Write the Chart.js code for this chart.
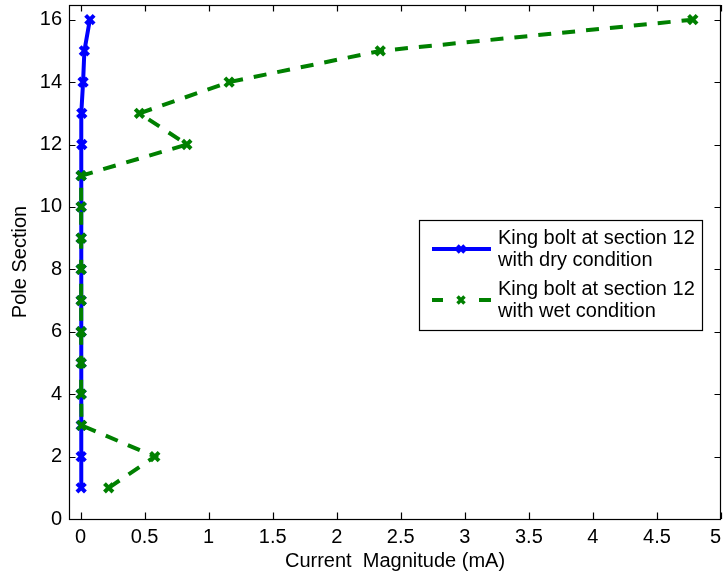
<!DOCTYPE html>
<html>
<head>
<meta charset="utf-8">
<script src="https://cdn.jsdelivr.net/npm/chart.js@4/dist/chart.umd.min.js"></script>
<style>
  html, body { margin: 0; padding: 0; background: #fff; }
  canvas { display: block; }
</style>
</head>
<body>
<canvas id="chart" width="723" height="577"></canvas>
<script>
// Pole sections (y) and measured current (x, mA)
const sections = [1, 2, 3, 4, 5, 6, 7, 8, 9, 10, 11, 12, 13, 14, 15, 16];
const dryCurrent = [0.005, 0.005, 0.005, 0.005, 0.005, 0.005, 0.005, 0.005, 0.005, 0.005, 0.005, 0.01, 0.01, 0.02, 0.03, 0.073];
const wetCurrent = [0.22, 0.58, 0.008, 0.005, 0.005, 0.005, 0.005, 0.005, 0.005, 0.005, 0.005, 0.83, 0.46, 1.16, 2.34, 4.78];

const xTicks = [0, 0.5, 1, 1.5, 2, 2.5, 3, 3.5, 4, 4.5, 5];
const xTickLabels = ['0', '0.5', '1', '1.5', '2', '2.5', '3', '3.5', '4', '4.5', '5'];
const yTicks = [0, 2, 4, 6, 8, 10, 12, 14, 16];
const yTickLabels = ['0', '2', '4', '6', '8', '10', '12', '14', '16'];

const dryLabel = ['King bolt at section 12', 'with dry condition'];
const wetLabel = ['King bolt at section 12', 'with wet condition'];

const FONT = '"Liberation Sans", Arial, Helvetica, sans-serif';

function toPoints(values) {
    return values.map((v, i) => ({ x: v, y: sections[i] }));
}

// Box round the axes and inward tick marks on all four sides (MATLAB style)
const framePlugin = {
    id: 'frame',
    afterDatasetsDraw(chart) {
        const { ctx, chartArea: a, scales } = chart;
        const len = 6.5;
        ctx.save();
        ctx.strokeStyle = '#000';
        ctx.lineWidth = 1.2;
        ctx.beginPath();
        xTicks.forEach(v => {
            const px = Math.round(scales.x.getPixelForValue(v)) + 0.5;
            ctx.moveTo(px, a.bottom); ctx.lineTo(px, a.bottom - len);
            ctx.moveTo(px, a.top); ctx.lineTo(px, a.top + len);
        });
        yTicks.forEach(v => {
            const py = Math.round(scales.y.getPixelForValue(v)) + 0.5;
            ctx.moveTo(a.left, py); ctx.lineTo(a.left + len, py);
            ctx.moveTo(a.right, py); ctx.lineTo(a.right - len, py);
        });
        ctx.stroke();
        ctx.strokeRect(Math.round(a.left) + 0.5, Math.round(a.top) + 0.5,
            Math.round(a.right - a.left) - 1, Math.round(a.bottom - a.top));
        ctx.restore();
    }
};

// Legend with two-line labels, drawn inside the axes
const legendPlugin = {
    id: 'boxLegend',
    afterDraw(chart) {
        const { ctx } = chart;
        const box = { x: 419.5, y: 220.5, w: 283, h: 110 };
        ctx.save();
        ctx.fillStyle = '#fff';
        ctx.fillRect(box.x, box.y, box.w, box.h);
        ctx.strokeStyle = '#000';
        ctx.lineWidth = 1.2;
        ctx.strokeRect(box.x, box.y, box.w, box.h);

        const centers = [249, 300];
        const dsList = [chart.data.datasets[0], chart.data.datasets[1]];
        dsList.forEach((ds, i) => {
            const cy = centers[i];
            ctx.strokeStyle = ds.borderColor;
            ctx.lineWidth = ds.borderWidth;
            ctx.setLineDash([]);
            ctx.beginPath();
            if (ds.borderDash && ds.borderDash.length) {
                ctx.moveTo(432, cy); ctx.lineTo(443, cy);
                ctx.moveTo(479, cy); ctx.lineTo(491, cy);
            } else {
                ctx.moveTo(432, cy); ctx.lineTo(491, cy);
            }
            ctx.stroke();
            // marker
            ctx.lineWidth = 3.5;
            const r = 3.5;
            ctx.beginPath();
            ctx.moveTo(461 - r, cy - r); ctx.lineTo(461 + r, cy + r);
            ctx.moveTo(461 - r, cy + r); ctx.lineTo(461 + r, cy - r);
            ctx.stroke();

            ctx.fillStyle = '#000';
            ctx.font = '20px ' + FONT;
            ctx.textAlign = 'left';
            ctx.textBaseline = 'middle';
            ds.label.forEach((line, j) => {
                ctx.fillText(line, 498, cy - 10.5 + j * 21.5);
            });
        });
        ctx.restore();
    }
};

const ctx = document.getElementById('chart').getContext('2d');

new Chart(ctx, {
    type: 'scatter',
    plugins: [framePlugin, legendPlugin],
    data: {
        datasets: [
            {
                label: dryLabel,
                data: toPoints(dryCurrent),
                showLine: true,
                borderColor: '#0000ff',
                backgroundColor: '#0000ff',
                borderWidth: 4,
                pointStyle: 'crossRot',
                pointRadius: 6,
                pointBorderWidth: 4,
                pointBorderColor: '#0000ff',
                order: 2
            },
            {
                label: wetLabel,
                data: toPoints(wetCurrent),
                showLine: true,
                borderColor: '#008000',
                backgroundColor: '#008000',
                borderWidth: 4,
                borderDash: [13, 11],
                pointStyle: 'crossRot',
                pointRadius: 6,
                pointBorderWidth: 4,
                pointBorderColor: '#008000',
                order: 1
            }
        ]
    },
    options: {
        responsive: false,
        animation: false,
        devicePixelRatio: 1,
        layout: { autoPadding: false, padding: { top: 5, right: 2, left: 0, bottom: 0 } },
        plugins: {
            legend: { display: false },
            tooltip: { enabled: false }
        },
        scales: {
            x: {
                type: 'linear',
                min: -0.09,
                max: 5,
                afterBuildTicks: scale => { scale.ticks = xTicks.map(v => ({ value: v })); },
                afterFit: scale => {
                    scale.height = 58;
                    scale.paddingLeft = 0;
                    scale.paddingRight = 0;
                },
                grid: { display: false, drawTicks: false },
                border: { display: false },
                ticks: {
                    padding: 6,
                    color: '#000',
                    font: { family: FONT, size: 20 },
                    callback: (value, i) => {
                        const label = xTickLabels[xTicks.indexOf(value)];
                        // last label sits left of the right edge so it is not cut off
                        return i === xTicks.length - 1 ? label + '  ' : label;
                    }
                },
                title: {
                    display: true,
                    text: 'Current  Magnitude (mA)',
                    color: '#000',
                    font: { family: FONT, size: 20, lineHeight: 1.2 },
                    padding: { top: 0, bottom: 4 }
                }
            },
            y: {
                type: 'linear',
                min: 0,
                max: 16.47,
                afterBuildTicks: scale => { scale.ticks = yTicks.map(v => ({ value: v })); },
                afterFit: scale => {
                    scale.width = 69;
                    scale.paddingTop = 0;
                    scale.paddingBottom = 0;
                },
                grid: { display: false, drawTicks: false },
                border: { display: false },
                ticks: {
                    padding: 7,
                    color: '#000',
                    font: { family: FONT, size: 20 },
                    callback: value => yTickLabels[yTicks.indexOf(value)]
                },
                title: {
                    display: true,
                    text: 'Pole Section',
                    color: '#000',
                    font: { family: FONT, size: 20, lineHeight: 1.2 },
                    padding: { top: 8, bottom: 0 }
                }
            }
        }
    }
});
</script>
</body>
</html>
